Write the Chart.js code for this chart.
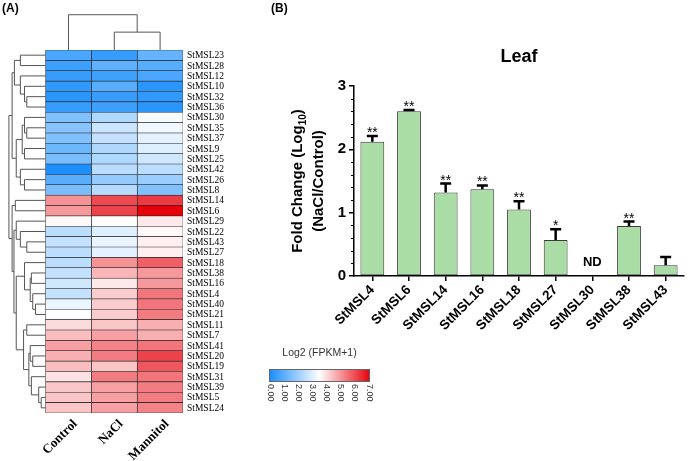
<!DOCTYPE html>
<html>
<head>
<meta charset="utf-8">
<script src="https://cdn.jsdelivr.net/npm/chart.js@4.4.1/dist/chart.umd.min.js"></script>
<style>
html, body { margin: 0; padding: 0; background: #fff; }
#wrap { position: relative; width: 688px; height: 461px; }
canvas { position: absolute; left: 0; top: 0; }
</style>
</head>
<body>
<div id="wrap">
  <canvas id="heat" width="688" height="461"></canvas>
  <canvas id="bars" width="688" height="461"></canvas>
</div>
<script>
// ---- panel A data: Log2(FPKM+1) per gene ----
const genes = ['StMSL23','StMSL28','StMSL12','StMSL10','StMSL32','StMSL36','StMSL30','StMSL35','StMSL37',
  'StMSL9','StMSL25','StMSL42','StMSL26','StMSL8','StMSL14','StMSL6','StMSL29','StMSL22','StMSL43',
  'StMSL27','StMSL18','StMSL38','StMSL16','StMSL4','StMSL40','StMSL21','StMSL11','StMSL7','StMSL41',
  'StMSL20','StMSL19','StMSL31','StMSL39','StMSL5','StMSL24'];
const conditions = ['Control', 'NaCl', 'Mannitol'];
const controlVals  = [0.8,0.6,0.5,0.4,0.3,0.5,1.6,1.7,1.6,1.3,1.5,0.1,1.0,1.5,5.0,4.9,3.6,2.5,2.6,2.5,2.5,2.6,2.8,2.6,3.2,3.5,4.0,4.4,4.8,4.6,4.4,3.9,4.3,4.3,4.3];
const naclVals     = [0.5,1.1,0.6,1.0,0.5,0.6,2.3,2.7,2.6,2.3,2.3,2.5,1.9,2.4,6.0,6.1,3.5,3.0,3.2,3.1,5.0,4.5,3.8,4.2,4.2,4.2,4.3,4.8,5.2,5.3,4.3,5.3,4.8,4.8,4.8];
const mannitolVals = [1.2,1.0,0.8,0.3,0.4,0.3,3.4,3.3,3.1,3.0,2.8,2.5,2.0,1.6,6.2,7.0,3.8,3.6,3.7,3.7,5.7,4.9,4.9,5.4,5.4,5.3,4.6,4.6,5.4,6.1,5.8,5.4,5.3,5.3,5.2];
// dendrogram merges: [a, b, height]; leaves are 0..34, each merge adds node 35, 36, ...
const rowLinks = [
  [0,1,0.55],[4,5,0.41],[3,36,0.46],[2,37,0.55],[35,38,0.68],
  [7,8,0.41],[6,40,0.46],[9,10,0.46],[41,42,0.51],[12,13,0.46],[11,44,0.55],[43,45,0.64],[39,46,0.73],
  [14,15,0.66],[18,19,0.41],[17,49,0.55],[16,50,0.64],
  [24,25,0.22],[23,52,0.28],[21,22,0.31],[54,53,0.335],[20,55,0.46],
  [26,27,0.41],[29,30,0.28],[28,58,0.335],[33,34,0.095],[32,60,0.15],[31,61,0.31],[59,62,0.365],[57,63,0.48],
  [56,64,0.64],[51,65,0.69],[48,66,0.73],[47,67,0.80]
];
const colLinks = [[1,2,0.39],[0,3,0.77]];
const legendTicks = [0,1,2,3,4,5,6,7];

// ---- panel B data ----
const barGenes = ['StMSL4','StMSL6','StMSL14','StMSL16','StMSL18','StMSL27','StMSL30','StMSL38','StMSL43'];
const foldChange = [2.12, 2.60, 1.32, 1.37, 1.05, 0.57, 0, 0.79, 0.17];
const errUpper   = [0.09, 0.02, 0.14, 0.06, 0.13, 0.17, 0, 0.07, 0.13];
const sigMarks   = ['**','**','**','**','**','*','ND','**',''];
const yTicks = [0, 1, 2, 3];

function heatColor(v) {
  const blue = [22, 140, 252], white = [255, 255, 255], red = [230, 0, 10];
  let a, b, t;
  if (v <= 3.5) { a = blue; b = white; t = v / 3.5; }
  else { a = white; b = red; t = (v - 3.5) / 3.5; }
  const c = a.map((q, i) => Math.round(q + (b[i] - q) * t));
  return `rgb(${c[0]},${c[1]},${c[2]})`;
}

const heatValues = [controlVals, naclVals, mannitolVals];

const heatDecor = {
  id: 'heatDecor',
  afterDraw(chart) {
    const ctx = chart.ctx, x = chart.scales.x, y = chart.scales.y, area = chart.chartArea;
    ctx.save();
    // left dendrogram
    ctx.strokeStyle = '#555';
    ctx.lineWidth = 1;
    const pos = [];
    genes.forEach((g, i) => pos.push({ px: x.getPixelForValue(0), py: y.getPixelForValue(i) }));
    ctx.beginPath();
    rowLinks.forEach(([a, b, h]) => {
      const px = x.getPixelForValue(-h), A = pos[a], B = pos[b];
      ctx.moveTo(A.px, A.py); ctx.lineTo(px, A.py); ctx.lineTo(px, B.py); ctx.lineTo(B.px, B.py);
      pos.push({ px, py: (A.py + B.py) / 2 });
    });
    ctx.stroke();
    // top dendrogram
    const unit = x.getPixelForValue(1) - x.getPixelForValue(0);
    const cpos = conditions.map((c, i) => ({ px: x.getPixelForValue(i + 0.5), py: area.top }));
    ctx.beginPath();
    colLinks.forEach(([a, b, h]) => {
      const py = area.top - h * unit, A = cpos[a], B = cpos[b];
      ctx.moveTo(A.px, A.py); ctx.lineTo(A.px, py); ctx.lineTo(B.px, py); ctx.lineTo(B.px, B.py);
      cpos.push({ px: (A.px + B.px) / 2, py });
    });
    ctx.stroke();
    // row labels
    ctx.fillStyle = '#000';
    ctx.font = '9.5px "Liberation Serif", serif';
    ctx.textAlign = 'left';
    ctx.textBaseline = 'middle';
    genes.forEach((g, i) => ctx.fillText(g, area.right + 4, y.getPixelForValue(i) + 0.5));
    // column labels
    ctx.font = 'bold 13px "Liberation Serif", serif';
    ctx.textAlign = 'right';
    conditions.forEach((c, i) => {
      ctx.save();
      ctx.translate(x.getPixelForValue(i + 0.5) + 7, area.bottom + 9);
      ctx.rotate(-Math.PI / 4);
      ctx.fillText(c, 0, 0);
      ctx.restore();
    });
    // panel letter
    ctx.font = 'bold 12px "Liberation Sans", Arial';
    ctx.textAlign = 'left';
    ctx.textBaseline = 'top';
    ctx.fillText('(A)', 2, 3);
    // colour key
    const kx0 = 269, kx1 = 370, ky0 = 369, ky1 = 382;
    const grad = ctx.createLinearGradient(kx0, 0, kx1, 0);
    legendTicks.forEach(v => grad.addColorStop(v / 7, heatColor(v)));
    grad.addColorStop(0.5, heatColor(3.5));
    ctx.fillStyle = grad;
    ctx.fillRect(kx0, ky0, kx1 - kx0, ky1 - ky0);
    ctx.strokeStyle = '#666';
    ctx.strokeRect(kx0 + 0.5, ky0 + 0.5, kx1 - kx0 - 1, ky1 - ky0 - 1);
    ctx.fillStyle = '#333';
    ctx.font = '10.5px "Liberation Sans", Arial';
    ctx.textAlign = 'center';
    ctx.textBaseline = 'middle';
    ctx.fillText('Log2 (FPKM+1)', (kx0 + kx1) / 2, 353);
    ctx.font = '9px "Liberation Sans", Arial';
    ctx.textAlign = 'left';
    legendTicks.forEach(v => {
      const tx = kx0 + (kx1 - kx0 - 2) * v / 7 + 1;
      ctx.save();
      ctx.translate(tx, ky1 + 2);
      ctx.rotate(Math.PI / 2);
      ctx.fillText(v.toFixed(2), 0, 0);
      ctx.restore();
    });
    ctx.restore();
  }
};

new Chart(document.getElementById('heat'), {
  type: 'bar',
  data: {
    labels: genes,
    datasets: conditions.map((c, k) => ({
      label: c,
      data: genes.map(() => 1),
      backgroundColor: heatValues[k].map(heatColor),
      borderColor: '#222',
      borderWidth: 0.6,
      borderSkipped: false,
      barPercentage: 1,
      categoryPercentage: 1
    }))
  },
  options: {
    indexAxis: 'y',
    responsive: false,
    animation: false,
    layout: { padding: { left: 8, right: 688 - 183, top: 50, bottom: 461 - 413 } },
    plugins: { legend: { display: false }, tooltip: { enabled: false } },
    scales: {
      x: { type: 'linear', min: -0.82, max: 3, stacked: true, display: false },
      y: { stacked: true, display: false }
    }
  },
  plugins: [heatDecor]
});

// ---- panel B ----
const barDecor = {
  id: 'barDecor',
  afterDatasetsDraw(chart) {
    const ctx = chart.ctx, x = chart.scales.x, y = chart.scales.y, area = chart.chartArea;
    ctx.save();
    ctx.strokeStyle = '#000';
    ctx.fillStyle = '#000';
    barGenes.forEach((g, i) => {
      const cx = x.getPixelForValue(i);
      let topY = y.getPixelForValue(foldChange[i]);
      if (errUpper[i] > 0) {
        const e = y.getPixelForValue(foldChange[i] + errUpper[i]);
        ctx.lineWidth = 2.5;
        ctx.beginPath();
        ctx.moveTo(cx, topY); ctx.lineTo(cx, e);
        ctx.moveTo(cx - 5.5, e); ctx.lineTo(cx + 5.5, e);
        ctx.stroke();
        topY = e;
      }
      ctx.textAlign = 'center';
      if (sigMarks[i] === 'ND') {
        ctx.font = 'bold 13px "Liberation Sans", Arial';
        ctx.textBaseline = 'middle';
        ctx.fillText('ND', cx, y.getPixelForValue(0.22));
      } else if (sigMarks[i]) {
        ctx.font = '14px "Liberation Sans", Arial';
        ctx.textBaseline = 'alphabetic';
        ctx.fillText(sigMarks[i], cx, topY + 1);
      }
    });
    // minor ticks
    ctx.lineWidth = 1;
    ctx.beginPath();
    for (let k = 1; k < 15; k++) {
      if (k % 5 === 0) continue;
      const py = Math.round(y.getPixelForValue(k * 0.2)) + 0.5;
      ctx.moveTo(area.left - 3, py); ctx.lineTo(area.left, py);
    }
    ctx.stroke();
    // title
    ctx.font = 'bold 18px "Liberation Sans", Arial';
    ctx.textAlign = 'center';
    ctx.textBaseline = 'middle';
    ctx.fillText('Leaf', 519, 57);
    // y axis title (two lines, subscript 10)
    const cy = (area.top + area.bottom) / 2;
    ctx.save();
    ctx.translate(298, cy);
    ctx.rotate(-Math.PI / 2);
    const main = 'Fold Change (Log', sub = '10', tail = ')';
    ctx.font = 'bold 15px "Liberation Sans", Arial';
    const wMain = ctx.measureText(main).width, wTail = ctx.measureText(tail).width;
    ctx.font = 'bold 10px "Liberation Sans", Arial';
    const wSub = ctx.measureText(sub).width;
    let sx = -(wMain + wSub + wTail) / 2;
    ctx.textAlign = 'left';
    ctx.font = 'bold 15px "Liberation Sans", Arial';
    ctx.fillText(main, sx, 0);
    ctx.font = 'bold 10px "Liberation Sans", Arial';
    ctx.fillText(sub, sx + wMain, 5);
    ctx.font = 'bold 15px "Liberation Sans", Arial';
    ctx.fillText(tail, sx + wMain + wSub, 0);
    ctx.textAlign = 'center';
    ctx.fillText('(NaCl/Control)', 0, 21);
    ctx.restore();
    // panel letter
    ctx.font = 'bold 12px "Liberation Sans", Arial';
    ctx.textAlign = 'left';
    ctx.textBaseline = 'top';
    ctx.fillText('(B)', 271, 3);
    ctx.restore();
  }
};

new Chart(document.getElementById('bars'), {
  type: 'bar',
  data: {
    labels: barGenes,
    datasets: [{
      data: foldChange,
      backgroundColor: '#aadca6',
      borderColor: '#3c3c3c',
      borderWidth: 1,
      borderSkipped: false,
      barPercentage: 0.65,
      categoryPercentage: 1
    }]
  },
  options: {
    responsive: false,
    animation: false,
    layout: { padding: { left: 314, right: 4, top: 86, bottom: 0 } },
    plugins: { legend: { display: false }, tooltip: { enabled: false } },
    scales: {
      y: {
        min: 0, max: 3,
        afterBuildTicks: s => { s.ticks = yTicks.map(v => ({ value: v })); },
        ticks: { color: '#000', font: { family: '"Liberation Sans", Arial', size: 15, weight: 'bold' }, padding: 3 },
        grid: { drawOnChartArea: false, drawTicks: true, tickLength: 5, color: '#000', lineWidth: 1.5 },
        border: { display: true, color: '#000', width: 1.5 },
        afterFit: s => { s.width = 40; }
      },
      x: {
        ticks: { color: '#000', minRotation: 45, maxRotation: 45, autoSkip: false, padding: 1,
                 font: { family: '"Liberation Sans", Arial', size: 13.5, weight: 'bold' } },
        grid: { drawOnChartArea: false, drawTicks: true, offset: false, tickLength: 5, color: '#000', lineWidth: 1.5 },
        border: { display: true, color: '#000', width: 1.5 },
        afterFit: s => { s.height = 461 - 276; }
      }
    }
  },
  plugins: [barDecor]
});
</script>
</body>
</html>
